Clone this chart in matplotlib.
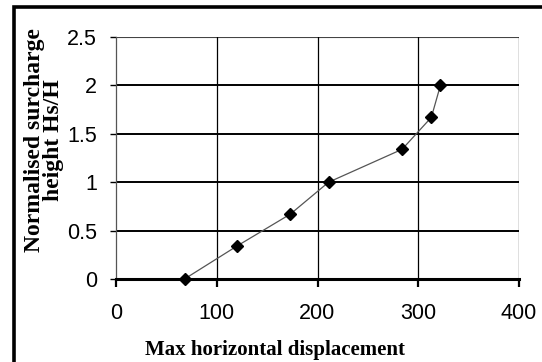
import matplotlib
matplotlib.use("Agg")
import matplotlib.pyplot as plt
from matplotlib.lines import Line2D

# data
displacement = [68, 120, 173, 211, 284, 313, 322]
surcharge = [0.0, 0.34, 0.67, 1.0, 1.34, 1.67, 2.0]
x_ticks = [0, 100, 200, 300, 400]
y_ticks = [0, 0.5, 1, 1.5, 2, 2.5]
y_tick_labels = ["0", "0.5", "1", "1.5", "2", "2.5"]
x_label = "Max horizontal displacement"
y_label = "Normalised surcharge\nheight Hs/H"

W, H = 542, 362
fig = plt.figure(figsize=(W / 100, H / 100), dpi=100)
fig.patch.set_facecolor("white")

# outer border (left and top visible, right/bottom cropped)
fig.add_artist(Line2D([13.5 / W, 13.5 / W, 1.01], [-0.01, 1 - 7 / H, 1 - 7 / H],
                      transform=fig.transFigure, color="black", lw=2.6,
                      solid_joinstyle="miter"))

ax = fig.add_axes([116 / W, 1 - 279 / H, (519 - 116) / W, (279 - 37) / H])
ax.set_xlim(0, 400)
ax.set_ylim(0, 2.5)

# grid
for yv in y_ticks[1:]:
    lw = 0.8 if yv == 2.5 else 1.4
    col = "#444444" if yv == 2.5 else "black"
    ax.axhline(yv, color=col, lw=lw, zorder=1)
for xv in x_ticks[1:]:
    ax.axvline(xv, color="black", lw=0.9, zorder=1)

ax.plot(displacement, surcharge, color="#555555", lw=0.9, zorder=6)
ax.plot(displacement, surcharge, linestyle="none", marker="D", ms=6,
        color="black", zorder=7, clip_on=False)

for s in ["top", "right"]:
    ax.spines[s].set_visible(False)
ax.spines["left"].set_color("#555555")
ax.spines["left"].set_linewidth(0.9)
ax.spines["bottom"].set_color("black")
ax.spines["bottom"].set_linewidth(2.2)
ax.spines["bottom"].set_zorder(5)

ax.set_xticks(x_ticks)
ax.set_xticklabels([str(v) for v in x_ticks])
ax.set_yticks(y_ticks)
ax.set_yticklabels(y_tick_labels)
ax.tick_params(axis="x", direction="out", length=6, width=1.6, pad=11,
               labelsize=15.5, colors="black")
ax.tick_params(axis="y", direction="out", length=4.5, width=1.0, pad=9,
               labelsize=15.5, colors="black")
for lab in ax.get_xticklabels() + ax.get_yticklabels():
    lab.set_family("Liberation Sans")

fig.text(275 / W, 1 - 350 / H, x_label, ha="center", va="center",
         family="Liberation Serif", fontweight="bold", fontsize=15)
fig.text(44 / W, 1 - 140 / H, y_label, ha="center", va="center", rotation=90,
         family="Liberation Serif", fontweight="bold", fontsize=17,
         linespacing=0.92, multialignment="center")

fig.savefig("out.png", dpi=100)
